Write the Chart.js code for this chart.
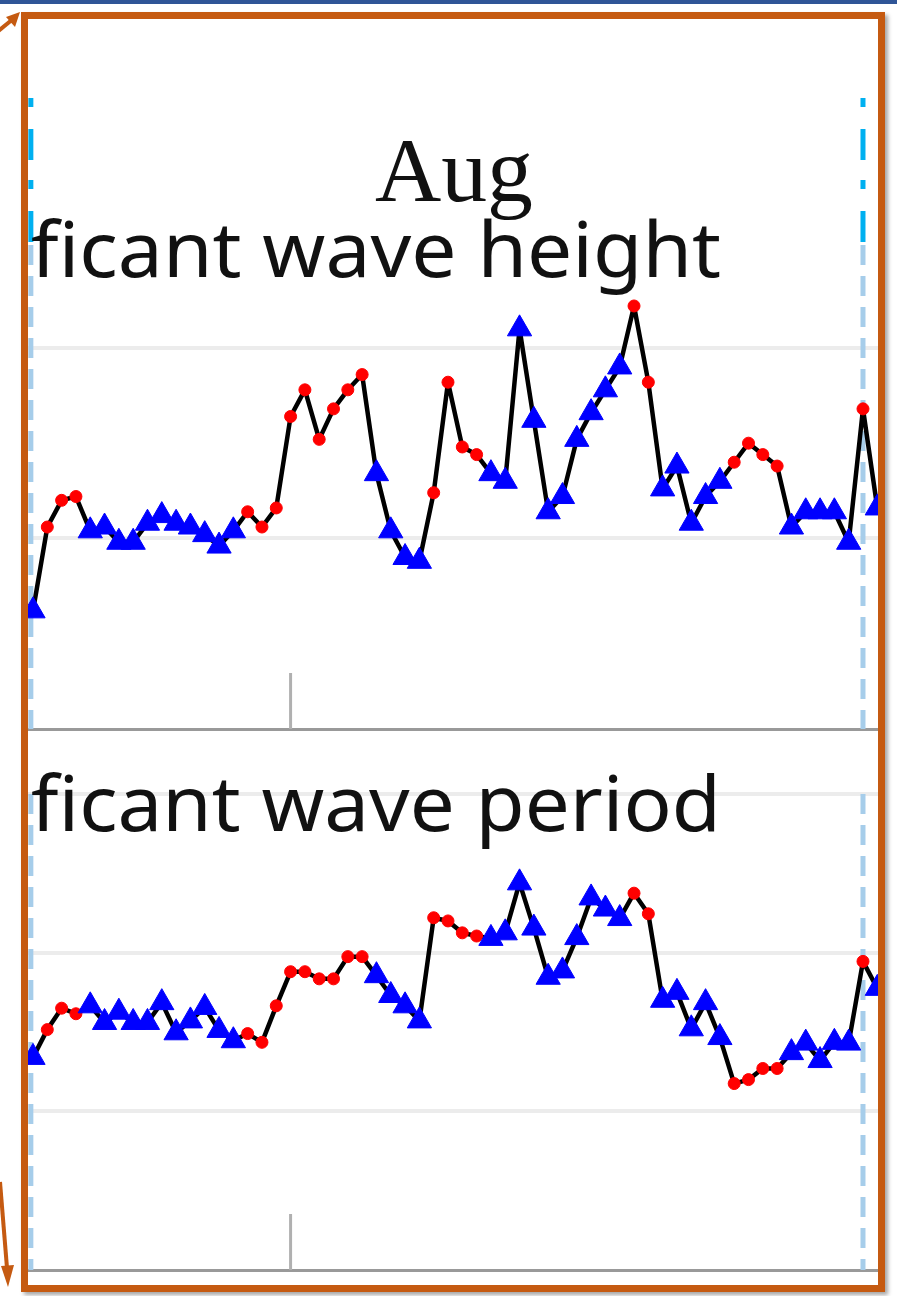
<!DOCTYPE html>
<html>
<head>
<meta charset="utf-8">
<title>Aug - significant wave height / period</title>
<script src="https://cdn.jsdelivr.net/npm/chart.js@4.4.1/dist/chart.umd.min.js"></script>
<style>
  html, body { margin: 0; padding: 0; background: #fff; }
  body { width: 897px; height: 1296px; position: relative; overflow: hidden; }
  .topbar { position: absolute; left: 0; top: 0; width: 897px; height: 4px; background: #2f5597; }
  .panel { position: absolute; left: 28px; width: 850px; overflow: hidden; }
  #upper { top: 90px; height: 645px; }
  #lower { top: 785px; height: 491px; }
  .overlay { position: absolute; left: 0; top: 0; }
  .frame {
    position: absolute; left: 21px; top: 12px; width: 850px; height: 1266px;
    border: 7px solid #c55a11; box-shadow: 3px 3px 4px rgba(0,0,0,0.35);
  }
</style>
</head>
<body>
<div class="topbar"></div>
<div class="panel" id="upper"><canvas id="heightChart" width="850" height="645"></canvas></div>
<div class="panel" id="lower"><canvas id="periodChart" width="850" height="491"></canvas></div>

<svg class="overlay" width="897" height="1296">
  <text x="375" y="201" font-family="Liberation Serif" font-size="90" textLength="158" lengthAdjust="spacingAndGlyphs" fill="#111">Aug</text>
  <text x="31" y="277" font-family="Noto Sans" font-size="77" textLength="690" lengthAdjust="spacingAndGlyphs" fill="#111">ficant wave height</text>
  <text x="31" y="831" font-family="Noto Sans" font-size="77" textLength="690" lengthAdjust="spacingAndGlyphs" fill="#111">ficant wave period</text>
</svg>
<div class="frame"></div>
<svg class="overlay" width="897" height="1296">
  <g stroke="#c55a11" stroke-width="4" fill="#c55a11">
    <line x1="-4" y1="33" x2="13" y2="19" />
    <polygon points="20,12 6,17 15,27" stroke="none" />
    <line x1="0" y1="1182" x2="7" y2="1268" />
    <polygon points="8,1287 1,1266 14,1265" stroke="none" />
  </g>
</svg>

<script>
// one value every ~half day, index 0 = first sample of the month
const heightVals = [0.31, 0.53, 0.60, 0.61, 0.52, 0.53, 0.49, 0.49, 0.54, 0.56,
                    0.54, 0.53, 0.51, 0.48, 0.52, 0.57, 0.53, 0.58, 0.82, 0.89,
                    0.76, 0.84, 0.89, 0.93, 0.67, 0.52, 0.45, 0.44, 0.62, 0.91,
                    0.74, 0.72, 0.67, 0.65, 1.05, 0.81, 0.57, 0.61, 0.76, 0.83,
                    0.89, 0.95, 1.11, 0.91, 0.63, 0.69, 0.54, 0.61, 0.65, 0.70,
                    0.75, 0.72, 0.69, 0.53, 0.57, 0.57, 0.57, 0.49, 0.84, 0.58];
const periodVals = [6.68, 7.03, 7.30, 7.23, 7.33, 7.12, 7.25, 7.12, 7.12, 7.37,
                    6.99, 7.14, 7.31, 7.02, 6.89, 6.98, 6.87, 7.33, 7.76, 7.76,
                    7.67, 7.67, 7.95, 7.95, 7.71, 7.46, 7.33, 7.14, 8.44, 8.40,
                    8.25, 8.21, 8.18, 8.25, 8.88, 8.31, 7.69, 7.77, 8.19, 8.69,
                    8.55, 8.43, 8.75, 8.49, 7.40, 7.50, 7.04, 7.37, 6.93, 6.35,
                    6.40, 6.54, 6.54, 6.74, 6.86, 6.64, 6.87, 6.86, 7.89, 7.55];
// r = red dot, b = blue triangle
const flags = 'b rrr bbbbbbbbbbb rrrrrrrrr bbbb rrrr bbbbbbbbbb rr bbbbb rrrr bbbbb r b'
  .replace(/ /g, '').split('');
const heightGrid = [0.5, 1.0];
const periodGrid = [6, 8, 10];
const eventLines = [-0.15, 58];   // dashed month markers
const xTickMarks = [18];

const guides = {
  id: 'guides',
  beforeDatasetsDraw(chart, args, opts) {
    const { ctx, chartArea: a, scales: { x } } = chart;
    ctx.save();
    ctx.lineWidth = 5;
    eventLines.forEach(v => {
      const px = x.getPixelForValue(v);
      if (opts.head != null) {
        ctx.strokeStyle = '#00b0f0';
        ctx.setLineDash([9, 22, 31, 20]);
        ctx.beginPath(); ctx.moveTo(px, opts.head); ctx.lineTo(px, a.top); ctx.stroke();
      }
      ctx.strokeStyle = '#a6cdea';
      ctx.setLineDash([20, 11]);
      ctx.beginPath(); ctx.moveTo(px, a.top); ctx.lineTo(px, a.bottom); ctx.stroke();
    });
    ctx.setLineDash([]);
    ctx.strokeStyle = '#b0b0b0';
    ctx.lineWidth = 3;
    xTickMarks.forEach(v => {
      const px = x.getPixelForValue(v);
      ctx.beginPath(); ctx.moveTo(px, a.bottom); ctx.lineTo(px, a.bottom - 56); ctx.stroke();
    });
    ctx.restore();
  }
};

function makeChart(id, vals, grid, yMin, yMax, padTop, head) {
  const pts = vals.map((v, i) => ({ x: i, y: v }));
  return new Chart(document.getElementById(id), {
    type: 'scatter',
    data: {
      datasets: [
        {
          data: pts,
          showLine: true,
          borderColor: '#000',
          borderWidth: 4.5,
          borderJoinStyle: 'round',
          pointRadius: 0,
          tension: 0,
          order: 1
        },
        {
          data: pts,
          showLine: false,
          pointStyle: flags.map(f => f === 'r' ? 'circle' : 'triangle'),
          pointRadius: flags.map(f => f === 'r' ? 6 : 14),
          pointBackgroundColor: flags.map(f => f === 'r' ? '#ff0000' : '#0000ff'),
          pointBorderColor: flags.map(f => f === 'r' ? '#ff0000' : '#0000ff'),
          pointBorderWidth: 1,
          clip: false,
          order: 0
        }
      ]
    },
    options: {
      responsive: false,
      animation: false,
      devicePixelRatio: 1,
      layout: { autoPadding: false, padding: { top: padTop, bottom: 6, left: 0, right: 0 } },
      plugins: { legend: { display: false }, tooltip: { enabled: false }, guides: { head: head } },
      scales: {
        x: {
          type: 'linear',
          min: -0.3494,
          max: 59.049,
          ticks: { display: false },
          grid: { drawOnChartArea: false, drawTicks: false },
          border: { display: true, color: '#999', width: 3 }
        },
        y: {
          min: yMin,
          max: yMax,
          afterBuildTicks: s => { s.ticks = grid.map(v => ({ value: v })); },
          ticks: { display: false },
          grid: { color: '#ececec', lineWidth: 4, drawTicks: false },
          border: { display: false }
        }
      }
    },
    plugins: [guides]
  });
}

makeChart('heightChart', heightVals, heightGrid, 0, 1.27, 155, 8);
makeChart('periodChart', periodVals, periodGrid, 4, 10, 9, null);
</script>
</body>
</html>
